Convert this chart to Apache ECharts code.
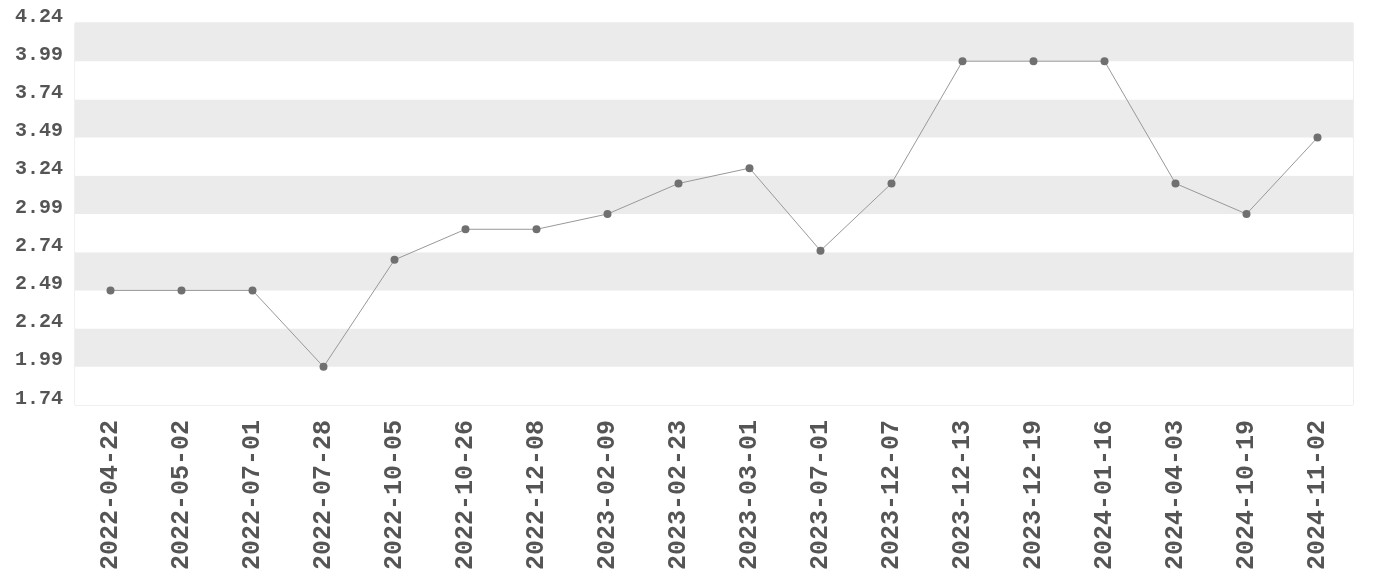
<!DOCTYPE html>
<html><head><meta charset="utf-8">
<script src="https://cdn.jsdelivr.net/npm/echarts@6/dist/echarts.min.js"></script>
<style>html,body{margin:0;padding:0;background:#fff}#c{width:1380px;height:580px}</style>
</head><body><div id="c"></div>
<script>
const categories = ['2022-04-22','2022-05-02','2022-07-01','2022-07-28','2022-10-05','2022-10-26','2022-12-08','2023-02-09','2023-02-23','2023-03-01','2023-07-01','2023-12-07','2023-12-13','2023-12-19','2024-01-16','2024-04-03','2024-10-19','2024-11-02'];
const values = [2.49,2.49,2.49,1.99,2.69,2.89,2.89,2.99,3.19,3.29,2.75,3.19,3.99,3.99,3.99,3.19,2.99,3.49];
const yMin = 1.74, yMax = 4.24, yStep = 0.25;
const font = '"Liberation Mono", monospace';
const chart = echarts.init(document.getElementById('c'));
chart.setOption({
  animation: false,
  grid: {left: 75, right: 27, top: 23, bottom: 175, show: true, borderColor: '#e0e0e0', borderWidth: 1},
  xAxis: {
    type: 'category', data: categories, boundaryGap: true,
    axisLine: {show: false}, axisTick: {show: false},
    axisLabel: {rotate: 90, fontFamily: font, fontWeight: 'bold', fontSize: 25, color: '#555', margin: 15}
  },
  yAxis: {
    type: 'value', min: yMin, max: yMax, interval: yStep,
    axisLine: {show: false}, axisTick: {show: false},
    splitLine: {show: false},
    splitArea: {show: true, areaStyle: {color: ['#ffffff', '#ebebeb']}},
    axisLabel: {fontFamily: font, fontWeight: 'bold', fontSize: 20, color: '#555', margin: 12,
      verticalAlign: 'bottom', lineHeight: 13, formatter: v => v.toFixed(2)}
  },
  series: [{
    type: 'line', data: values, symbol: 'circle', symbolSize: 8,
    itemStyle: {color: '#707070'}, lineStyle: {color: '#999', width: 1}
  }]
});
</script></body></html>
